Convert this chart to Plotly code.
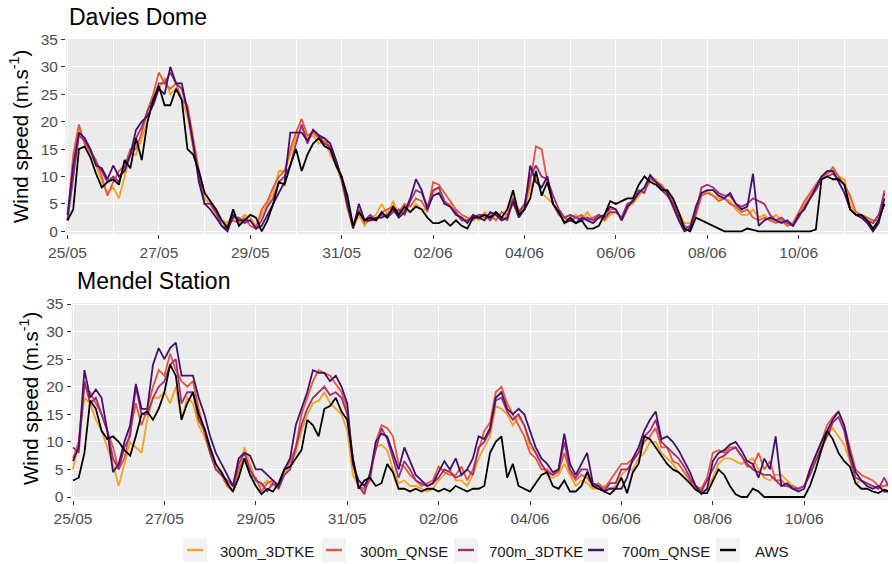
import pandas as pd
import plotly.graph_objects as go

W, H = 892, 564

# 3-hourly time stamps, 25/05 00:00 onwards (8 values per day, 18 days)
times = pd.date_range("2017-05-25", periods=144, freq="3h")

series_names = ["300m_3DTKE", "300m_QNSE", "700m_3DTKE", "700m_QNSE", "AWS"]
series_colors = ["#F5A31E", "#E5583D", "#A02C7B", "#45106B", "#000000"]
panel_titles = ["Davies Dome", "Mendel Station"]
tick_days = ["25/05", "27/05", "29/05", "31/05", "02/06", "04/06", "06/06", "08/06", "10/06"]

# ---------------- Davies Dome (one row = one day) ----------------
dd_300_3dtke = [
    2, 12, 19, 16, 14, 12, 9, 7,
    8, 6, 10, 14, 14, 17, 20, 24,
    26, 28, 25, 26, 24, 21, 15, 11,
    6, 5, 3, 2, 1.5, 3, 2, 3,
    2.5, 1, 3, 5, 7, 11, 11, 14,
    17, 19, 17, 17.5, 16, 16.5, 14, 12,
    9, 4, 0.5, 3, 1, 2.5, 3, 5,
    3, 5.5, 3, 4, 3.5, 5, 4, 4,
    7, 8, 5, 5, 3, 2.5, 2, 3,
    2, 3.5, 2.5, 3, 2, 3, 6.5, 4,
    4, 8, 10, 7, 6, 5, 3, 2,
    2.5, 3, 2, 3.5, 2, 2.5, 2, 3,
    3.5, 2.5, 4.5, 5, 6.5, 7.5, 9, 9.5,
    8, 7, 5, 3.5, 1.5, 1.5, 4, 6.5,
    7.5, 6.5, 6, 6, 5.5, 4, 3, 3,
    4, 2.5, 3, 2, 3, 2, 1.5, 1.5,
    3, 5, 6.5, 8, 9.5, 10.5, 11, 10,
    9.5, 5, 3, 2.5, 2, 1.5, 2.5, 5,
]
dd_300_qnse = [
    2, 14, 19.5, 16, 14.5, 13, 10, 6.5,
    9, 11, 12, 15, 15, 18, 22, 25,
    29, 27, 26, 27, 24, 23, 17, 11,
    7, 5.5, 4, 2, 1, 2, 1.5, 2.5,
    1, 0.5, 4, 5.5, 8, 10, 11, 15,
    18, 20.5, 17.5, 18, 17, 17, 15, 13,
    9.5, 5, 1, 4, 1.5, 2, 2, 3.5,
    4, 4.5, 3.5, 5, 4.5, 6, 5.5, 3.5,
    9, 8.5, 7, 5.5, 4, 3, 2.5, 2,
    3, 2.5, 3, 2, 3.5, 3, 5, 3,
    4.5, 9, 15.5, 15, 9, 5, 3, 2.5,
    2, 2.5, 3, 2, 2.5, 3, 2, 4,
    4, 2, 4, 6, 7, 8, 9.5, 9,
    8.5, 7, 5.5, 3, 1, 0.5, 3, 6.5,
    7, 6.5, 5.5, 6, 5, 4.5, 3.5, 4,
    2.5, 2, 2.5, 2, 1.5, 2, 1, 1.5,
    3.5, 5.5, 7, 8.5, 10, 10.5, 11.7, 10,
    8.5, 6.5, 3.5, 3, 2.5, 2, 2, 7.5,
]
dd_700_3dtke = [
    2, 10, 17.5, 16.5, 15, 12.5, 11, 9,
    10, 9, 12, 14, 17, 19, 22, 24,
    27, 27, 29, 27, 26, 22, 16, 10,
    5, 5, 3.5, 1, 0.5, 2.5, 2.5, 1.5,
    2, 0.5, 2, 4.5, 6, 9, 10, 12,
    16, 19.5, 16, 18.5, 17.5, 16, 15.5, 12.5,
    10, 4.5, 1, 3.5, 2, 3, 2, 3,
    2.5, 3.5, 4, 3, 5.5, 7.5, 7, 4.5,
    7.5, 8, 5.5, 4.5, 3.5, 2, 2, 2.5,
    3, 3, 2, 3.5, 2.5, 2, 6, 3.5,
    5, 10, 12, 10, 9.5, 6.5, 4, 2.5,
    3, 2.5, 2, 2.5, 2, 3, 2.5, 3.5,
    3.5, 2.5, 5, 5.5, 7.5, 7, 10, 9,
    7.5, 6.5, 5, 2.5, 0.5, 1, 3.5, 8,
    8.5, 8, 7, 6.5, 6.5, 5, 4.5, 5,
    6, 5.5, 5, 3, 2, 2.5, 1.5, 1,
    2.5, 4.5, 6, 7.5, 9.5, 10, 10.5, 9.5,
    8.5, 4, 3, 2.5, 2, 1.5, 3, 7,
]
dd_700_qnse = [
    3, 12, 18, 17, 15, 12, 11.5, 9.5,
    12, 10, 11, 14, 18.5, 20, 21, 23,
    26, 25, 30, 27, 27, 22, 16, 9,
    5, 4, 2.5, 1, 0, 3, 2, 2,
    2, 0.5, 1, 3, 5, 7, 9, 18,
    18, 18, 16.5, 18.5, 17.5, 17, 16, 13,
    9.5, 5, 0.5, 5, 2, 2, 2.5, 2.5,
    3, 4, 2.5, 3.5, 6, 9.5, 7.5, 4,
    6.5, 7, 5, 4.5, 3, 2.5, 1.5, 3,
    2.5, 2, 3.5, 3, 2, 2.5, 5.5, 2.5,
    4, 12, 9, 8, 10, 5, 3.5, 1.5,
    2, 1.5, 2.5, 2, 1.5, 2.5, 3, 4.5,
    4, 2, 4.5, 5.5, 7, 8, 10.3, 9,
    8, 7, 4.5, 2, 0, 0.5, 4.5, 7,
    7.5, 7.5, 6.5, 6, 7, 5, 4, 4.5,
    10.5, 1, 2, 2.5, 2, 1.5, 2, 1,
    3, 4, 6, 8, 10, 11, 11, 9,
    7, 4, 3, 2.5, 1.5, 0, 1.5, 6,
]
dd_aws = [
    2, 4, 15, 15.5, 13.5, 10.5, 8, 9,
    9.5, 8.5, 13, 11.5, 17, 13, 20, 24,
    26.5, 23, 23, 26, 24, 15, 14, 11,
    7, 5.5, 4, 2, 0.5, 4, 1, 2,
    3, 2.5, 0, 2, 5, 9, 8.5, 12,
    15, 11, 14, 16, 17, 15.5, 15, 12,
    10, 6.5, 1, 3.5, 2, 2.5, 2, 3.5,
    2.5, 4.5, 3, 4.5, 3.5, 4.5, 4, 2.5,
    1.5, 1.5, 2, 1, 2, 1, 0.5, 2.5,
    2.5, 3, 2.5, 3.5, 2.5, 4, 7.5, 3,
    4, 6, 11, 6.5, 9, 5, 3.5, 1.5,
    2.5, 1.5, 2, 0.5, 0.5, 1, 3, 5.5,
    5, 5.5, 6, 6, 8.5, 10, 9, 8.5,
    7.5, 7.5, 6, 3.5, 0.5, 0, 2.5, 2,
    1.5, 1, 0.5, 0, 0, 0, 0, 0.5,
    0.3, 0, 0, 0, 0, 0, 0, 0,
    0, 0, 0, 0.3, 9.5, 10, 9.5, 9.5,
    8.5, 4, 3, 3, 2, 0.5, 2, 5,
]

# ---------------- Mendel Station (one row = one day) ----------------
ms_300_3dtke = [
    5, 10, 18, 17, 14, 12, 9, 6,
    2, 6, 10, 9, 8, 14, 18, 18,
    19, 17, 20, 14, 18, 17, 13, 11,
    8, 6, 4, 2, 1, 4, 9, 6,
    3, 2, 3, 2, 2.5, 4, 6, 8,
    12, 15, 17, 17.5, 19, 17, 16, 15,
    12, 4, 2, 1, 3.5, 9, 9.5, 8.5,
    5, 2.5, 3, 2, 2, 1.5, 1, 1.5,
    3, 4, 5, 3, 3, 2, 4, 7,
    9, 11, 16.5, 16, 15, 13, 14.5, 13,
    9, 8, 6, 4, 3.5, 4, 6, 4,
    2, 3, 2.5, 1.5, 1.5, 2, 1.5, 2,
    4, 5, 5, 7, 8, 10, 10, 8,
    7, 6, 4.5, 3.5, 2.5, 1.5, 1, 1.5,
    3.5, 6, 7, 7, 6.5, 6, 6.5, 7,
    5, 3.5, 3, 4, 4, 3, 2, 1.5,
    2, 4, 6.5, 8.5, 11, 12.5, 11, 9.5,
    6.5, 2.5, 3, 2.5, 2, 1.5, 2, 2,
]
ms_300_qnse = [
    7, 10, 20, 19, 17, 15, 12, 9,
    5, 7, 12, 17, 13, 16, 20, 23,
    22, 26, 23, 21, 20, 21, 16, 12,
    8, 5, 4, 2, 1, 5, 7, 4,
    3.5, 1, 2.5, 3, 2, 5, 6.5, 9,
    15, 18, 21, 23, 22.5, 22, 20.5, 19,
    16, 7, 2, 1.5, 3, 10, 13, 12.5,
    11, 6, 5.5, 4, 3, 2, 2.5, 3,
    5.5, 4.5, 4, 4, 5.5, 3, 5, 8.5,
    12, 13.5, 19, 20, 17, 15, 13, 11,
    8, 7, 5, 5, 4, 4.5, 8, 4.5,
    3, 4, 3.5, 2, 2.5, 1.5, 3, 4.5,
    6, 6, 7, 8, 10, 11, 12.5, 9,
    9, 6.5, 6, 4.5, 3, 2, 1.5, 3.5,
    8, 8.5, 8, 9, 9, 7.5, 5.5, 5.5,
    8, 5, 6.5, 3, 3, 2, 2, 1.5,
    2, 5, 7.5, 10, 13, 14.5, 15.5, 13,
    9, 5, 4, 3.5, 3, 2, 2, 2.5,
]
ms_700_3dtke = [
    9, 8, 21, 17, 18, 15, 12, 7,
    5, 9, 11, 20, 15, 15, 18, 20,
    21, 24, 25, 17, 19, 19, 14, 12,
    8, 5, 4, 3, 2, 6, 8, 5,
    3, 2.5, 1, 2.5, 1.5, 4, 5, 9,
    13, 16, 18, 19, 20, 18.5, 19, 18,
    15, 6, 2, 0.5, 4.5, 8, 12.5, 10.5,
    7, 3.5, 6.5, 5, 3, 2.5, 2, 2.5,
    3.5, 5, 4.5, 3.5, 4, 5, 4, 9,
    10, 12, 17.5, 18, 15.5, 14, 15, 13,
    10, 8, 6, 4.5, 4, 5, 10, 5,
    3.5, 5, 5, 2, 2, 1, 2.5, 2.5,
    5, 5, 6.5, 8, 11, 12, 14, 10,
    9, 8, 7, 5.5, 3.5, 2, 1, 3,
    5, 7, 7.5, 8.5, 9, 7.5, 6, 5,
    4.5, 4, 4, 3, 2, 2, 1.5, 1.5,
    2, 4, 6.5, 9, 11, 13.5, 14.5, 12,
    7, 3.5, 3, 2.5, 2, 1.5, 3.5, 1.5,
]
ms_700_qnse = [
    6.5, 9, 23, 18, 19.5, 18, 12, 4.5,
    6, 10, 13, 20.5, 16, 16, 24, 27,
    25, 27, 28, 22, 22, 22, 18, 15,
    11, 8, 6, 4, 2, 7, 8, 7.5,
    5, 5, 4, 3, 2, 5, 7, 13,
    16, 19, 23, 22.5, 22.5, 21, 22, 20,
    17, 6, 3, 2, 4, 10, 11.5, 11,
    8, 5, 9, 6.5, 4, 3, 2, 2.5,
    4.5, 6.5, 5, 7, 4, 5, 7, 11,
    10.5, 12.5, 18, 19, 16, 15, 16, 15,
    12, 9, 7, 6, 4.5, 5, 11.5, 6,
    4, 6, 8, 2.5, 2, 1, 1.5, 1.5,
    1.5, 3.5, 7, 9, 12, 14, 15.5, 10.5,
    11, 10, 8.5, 6.5, 4.5, 2, 0.5, 1.5,
    6.5, 8, 8.5, 9.5, 10, 8.5, 6.5, 6,
    3.5, 7, 5, 11, 2, 2.5, 1.5, 1,
    1.5, 5, 7.5, 10, 12, 14, 15.5, 13,
    8, 4.5, 3, 2, 1.5, 2, 1, 1,
]
ms_aws = [
    3, 3.5, 8, 17.5, 16, 12, 10.5, 11,
    10, 8.5, 7.5, 11, 15, 15.5, 14, 16,
    19, 24, 22, 14, 17, 19, 15, 12.5,
    9, 6, 4.5, 2.5, 1, 3.5, 7, 4,
    2, 0.5, 1.5, 1, 2.5, 5, 5.5, 7,
    8.5, 14, 13, 11, 16, 16.5, 18, 15.5,
    14, 7, 1.5, 3, 3.5, 2, 2.5, 6,
    4.5, 1.5, 1.5, 1, 1.5, 1, 1.5, 1.5,
    1, 1.5, 1, 2, 1.5, 1, 1.5, 1.5,
    2, 8, 10, 11, 3.5, 6, 2, 1.5,
    1, 2.5, 4, 4.5, 2, 1.5, 3, 1,
    1, 2, 4.5, 2, 1.5, 1, 0.5, 1.5,
    3.5, 0.7, 4.5, 6, 11, 10.5, 9, 7.5,
    6, 5, 4.5, 3.5, 2.5, 1.3, 0.7, 0.7,
    3, 5, 4, 2, 0.5, 0, 0, 1.5,
    1, 0, 0, 0, 0, 0, 0, 0,
    0, 2, 5, 8.5, 12, 10.5, 8, 6.5,
    5.5, 2.5, 1.5, 1.5, 1, 0.7, 1.3, 1,
]

panels = [
    [dd_300_3dtke, dd_300_qnse, dd_700_3dtke, dd_700_qnse, dd_aws],
    [ms_300_3dtke, ms_300_qnse, ms_700_3dtke, ms_700_qnse, ms_aws],
]

FONT = "Liberation Sans, Arial, Helvetica, sans-serif"
t0 = pd.Timestamp("2017-05-25")
day = pd.Timedelta(days=1)


def xp(px):
    return px / W


def yp(py):
    return 1 - py / H


# panel geometry in pixels
geo = [
    dict(l=66, r=888, t=39, b=234, x0=67.5, pd=45.7, y0=231.3, pu=5.48),
    dict(l=71.5, r=888, t=303, b=500, x0=73.0, pd=45.7, y0=497.0, pu=5.514),
]

fig = go.Figure()
for p, series_list in enumerate(panels):
    xa = "x" if p == 0 else "x2"
    ya = "y" if p == 0 else "y2"
    for name, color, vals in zip(series_names, series_colors, series_list):
        fig.add_trace(go.Scatter(
            x=times, y=vals, mode="lines", name=name,
            line=dict(color=color, width=1.8),
            xaxis=xa, yaxis=ya, showlegend=False,
        ))

for p, g in enumerate(geo):
    sfx = "" if p == 0 else "2"
    d_lo = (g["l"] - g["x0"]) / g["pd"]
    d_hi = (g["r"] - g["x0"]) / g["pd"]
    v_hi = (g["y0"] - g["t"]) / g["pu"]
    v_lo = (g["y0"] - g["b"]) / g["pu"]
    fig.update_layout(**{
        "xaxis" + sfx: dict(
            domain=[xp(g["l"]), xp(g["r"])],
            anchor="y" + sfx,
            type="date", automargin=False,
            range=[t0 + d_lo * day, t0 + d_hi * day],
            tickmode="array",
            tickvals=[t0 + 2 * i * day for i in range(len(tick_days))],
            ticktext=tick_days,
            ticks="outside", ticklen=4, tickwidth=1.2, tickcolor="#333333",
            tickfont=dict(family=FONT, size=15.5, color="#4d4d4d"),
            showgrid=True, gridcolor="white", gridwidth=1.3,
            minor=dict(tickmode="array",
                       tickvals=[t0 + (2 * i + 1) * day for i in range(9)],
                       showgrid=True, gridcolor="white", gridwidth=0.9, ticks=""),
            zeroline=False, showline=False,
        ),
        "yaxis" + sfx: dict(
            domain=[yp(g["b"]), yp(g["t"])],
            anchor="x" + sfx, automargin=False,
            range=[v_lo, v_hi],
            tickmode="array", tickvals=[0, 5, 10, 15, 20, 25, 30, 35],
            ticks="outside", ticklen=4, tickwidth=1.2, tickcolor="#333333",
            tickfont=dict(family=FONT, size=15.5, color="#4d4d4d"),
            showgrid=True, gridcolor="white", gridwidth=1.3,
            zeroline=False, showline=False,
        ),
    })

annotations = [
    dict(text=panel_titles[0], x=xp(67), y=yp(16.5), xanchor="left", yanchor="middle",
         font=dict(family=FONT, size=23, color="black")),
    dict(text=panel_titles[1], x=xp(75), y=yp(281), xanchor="left", yanchor="middle",
         font=dict(family=FONT, size=23, color="black")),
    dict(text="Wind speed (m.s<sup>-1</sup>)", x=xp(19), y=yp(137), textangle=-90,
         xanchor="center", yanchor="middle", font=dict(family=FONT, size=20.5, color="black")),
    dict(text="Wind speed (m.s<sup>-1</sup>)", x=xp(29), y=yp(399), textangle=-90,
         xanchor="center", yanchor="middle", font=dict(family=FONT, size=20.5, color="black")),
]

# legend (bottom, horizontal)
key_left = [183, 322, 454, 584, 716]
text_left = [218, 358, 487, 620, 753]
shapes = []
for name, color, kl, tl in zip(series_names, series_colors, key_left, text_left):
    shapes.append(dict(type="rect", xref="paper", yref="paper",
                       x0=xp(kl), x1=xp(kl + 24), y0=yp(562), y1=yp(538),
                       fillcolor="#f2f2f2", line=dict(width=0), layer="below"))
    shapes.append(dict(type="line", xref="paper", yref="paper",
                       x0=xp(kl + 4), x1=xp(kl + 20), y0=yp(550), y1=yp(550),
                       line=dict(color=color, width=2.4)))
    annotations.append(dict(text=name, x=xp(tl), y=yp(551), xanchor="left", yanchor="middle",
                            font=dict(family=FONT, size=15, color="#1a1a1a")))

for a in annotations:
    a.update(xref="paper", yref="paper", showarrow=False)

fig.update_layout(
    width=W, height=H, autosize=False,
    margin=dict(l=0, r=0, t=0, b=0, pad=0, autoexpand=False),
    paper_bgcolor="white", plot_bgcolor="#ebebeb",
    showlegend=False,
    annotations=annotations, shapes=shapes,
    font=dict(family=FONT),
)

fig.write_html("out.html")
